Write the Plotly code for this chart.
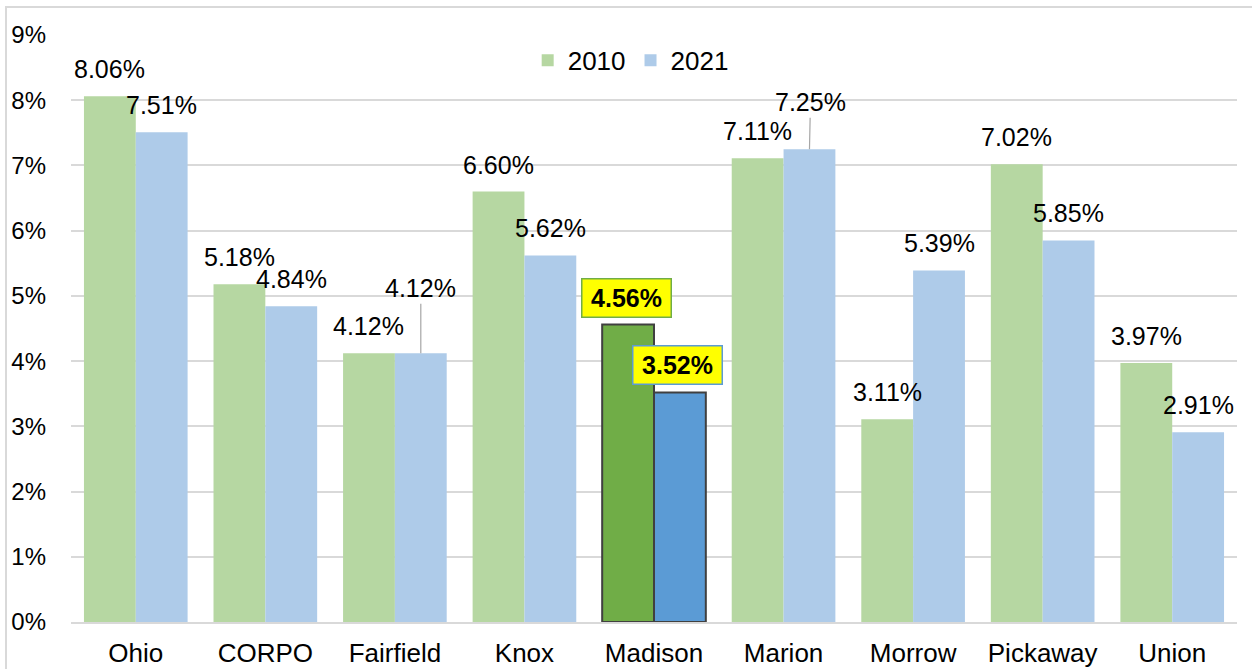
import plotly.graph_objects as go

categories = ["Ohio", "CORPO", "Fairfield", "Knox", "Madison", "Marion", "Morrow", "Pickaway", "Union"]
values_2010 = [8.06, 5.18, 4.12, 6.60, 4.56, 7.11, 3.11, 7.02, 3.97]
values_2021 = [7.51, 4.84, 4.12, 5.62, 3.52, 7.25, 5.39, 5.85, 2.91]
series_names = ["2010", "2021"]
y_ticks = [0, 1, 2, 3, 4, 5, 6, 7, 8, 9]
highlight = "Madison"

# styling
FONT = "Liberation Sans, Arial, sans-serif"
light = {"2010": "#b6d7a2", "2021": "#aecbe9"}
dark = {"2010": "#70ad47", "2021": "#5b9bd5"}
W, H = 1252, 669
ML, MR, MT, MB = 71, 15, 35, 47
plot_w = W - ML - MR
cat_w = plot_w / len(categories)
BARGAP = 0.2
bar_px = cat_w * (1 - BARGAP) / 2  # single bar width in px
LABEL_DY = 27

fig = go.Figure()
for name, vals in zip(series_names, [values_2010, values_2021]):
    colors = [dark[name] if c == highlight else light[name] for c in categories]
    lcolors = ["#404040" if c == highlight else "rgba(0,0,0,0)" for c in categories]
    lwidths = [2 if c == highlight else 0 for c in categories]
    fig.add_trace(go.Bar(
        x=categories, y=vals, name=name,
        marker=dict(color=colors, line=dict(color=lcolors, width=lwidths)),
    ))

# special label placements (leader lines)
leader = {("Fairfield", "2021"): (0, -65), ("Marion", "2021"): (1, -47)}

annotations = []
for si, (name, vals) in enumerate(zip(series_names, [values_2010, values_2021])):
    xs = (-0.5 if si == 0 else 0.5) * bar_px
    for c, v in zip(categories, vals):
        txt = f"{v:.2f}%"
        if c == highlight:
            annotations.append(dict(
                x=c, y=v, xref="x", yref="y", xshift=xs - 2, yshift=LABEL_DY,
                yanchor="middle", xanchor="center", showarrow=False,
                text=f"<b>{txt}</b>", font=dict(size=25, color="black", family=FONT),
                width=78, height=27,
                bgcolor="#ffff00", bordercolor=dark[name], borderwidth=1.5, borderpad=5,
            ))
        elif (c, name) in leader:
            ax, ay = leader[(c, name)]
            annotations.append(dict(
                x=c, y=v, xref="x", yref="y", xshift=xs,
                showarrow=True, arrowhead=0, arrowwidth=1.2, arrowcolor="#a6a6a6",
                ax=ax, ay=ay, text=txt, font=dict(size=25, color="black", family=FONT),
            ))
        else:
            annotations.append(dict(
                x=c, y=v, xref="x", yref="y", xshift=xs, yshift=LABEL_DY,
                yanchor="middle", xanchor="center", showarrow=False,
                text=txt, font=dict(size=25, color="black", family=FONT),
            ))

fig.update_layout(
    width=W, height=H,
    margin=dict(l=ML, r=MR, t=MT, b=MB, autoexpand=False),
    paper_bgcolor="white", plot_bgcolor="white",
    barmode="group", bargap=BARGAP, bargroupgap=0,
    font=dict(family=FONT, size=24, color="black"),
    legend=dict(orientation="h", x=0.48, xanchor="center", y=0.957, yanchor="middle",
                font=dict(size=26), bgcolor="rgba(0,0,0,0)"),
    annotations=annotations,
    shapes=[dict(type="rect", xref="paper", yref="paper",
                 x0=(6 - ML) / plot_w, x1=1.05, y0=-0.2,
                 y1=(H - MB - 7) / (H - MT - MB),
                 line=dict(color="#d9d9d9", width=2), layer="below")],
)
fig.update_yaxes(range=[0, 9], tickvals=y_ticks, ticktext=[f"{t}%" for t in y_ticks],
                 showgrid=True, gridcolor="#d9d9d9", gridwidth=1.5, zeroline=False,
                 ticklabelstandoff=24, tickfont=dict(size=24), fixedrange=True,
                 automargin=False)
fig.update_xaxes(showline=True, linecolor="#d9d9d9", linewidth=1.5, showgrid=False,
                 ticklabelstandoff=7, tickfont=dict(size=26), fixedrange=True,
                 automargin=False)

fig.write_html("out.html", config={"displayModeBar": False},
               post_script="document.body.style.margin='0';document.body.style.overflow='hidden';")
